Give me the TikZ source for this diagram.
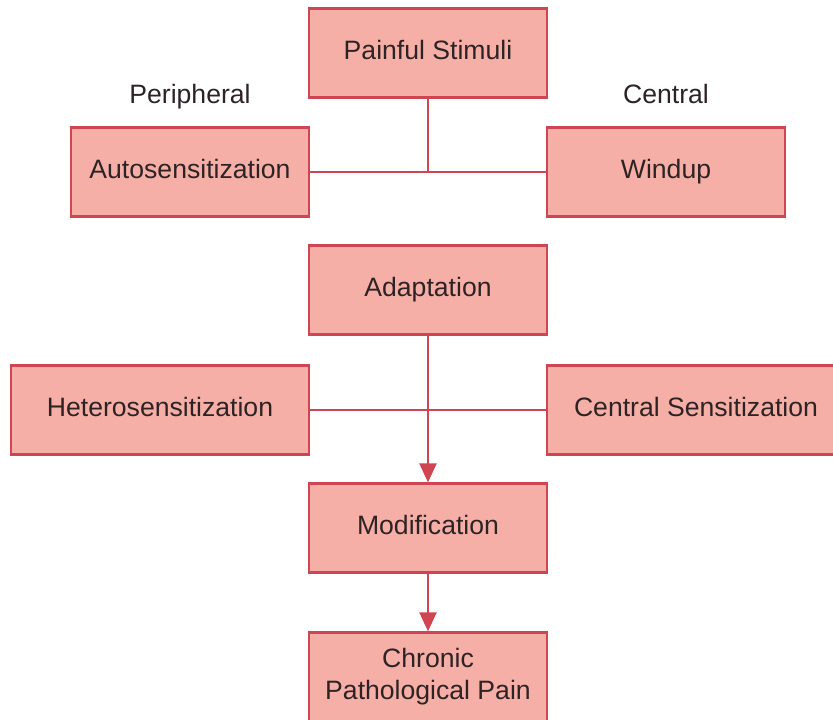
\documentclass[tikz,border=0pt]{standalone}
\usepackage{fontspec}
\setmainfont{Liberation Sans}
\usetikzlibrary{arrows.meta}
\definecolor{boxfill}{HTML}{F6AFA7}
\definecolor{boxline}{HTML}{CF4652}
\definecolor{ink}{HTML}{2E2324}
\begin{document}
\begin{tikzpicture}[x=1pt,y=-1pt,
  stagebase/.style={draw=boxline, fill=boxfill, line width=2.2pt, rectangle,
    minimum width=238pt, minimum height=89pt, inner sep=0pt,
    text=ink, font=\fontsize{26.6pt}{32pt}\selectfont, align=center},
  stage/.style={stagebase, text height=19pt, text depth=7pt},
  caption/.style={text=ink, font=\fontsize{26.6pt}{32pt}\selectfont, inner sep=0pt,
    text height=19pt, text depth=7pt},
  link/.style={draw=boxline, line width=2.2pt},
  flow/.style={link, -{Triangle[width=17pt,length=19pt]}, color=boxline}]
\useasboundingbox (0,0) rectangle (833,720);

% top tier
\node[stage] (stimuli) at (428,53) {Painful Stimuli};
\node[stage] (auto) at (190,172) {Autosensitization};
\node[stage] (windup) at (666,172) {Windup};
\node[caption] (peri) at (190,97) {Peripheral};
\node[caption] (cent) at (666,97) {Central};
\coordinate (j1) at (428,172);

% middle tier
\node[stage] (adapt) at (428,290) {Adaptation};
\node[stage, minimum width=298pt] (hetero) at (160,410) {Heterosensitization};
\node[stage, minimum width=298pt] (csens) at (696,410) {Central Sensitization};

% bottom tier
\node[stage] (modif) at (428,528) {Modification};
\node[stagebase] (chronic) at (428,677) {Chronic\\Pathological Pain};

% connectors
\draw[link] (stimuli.south) -- (j1);
\draw[link] (auto.east) -- (windup.west);
\draw[link] (hetero.east) -- (csens.west);
\draw[flow] (adapt.south) -- (modif.north);
\draw[flow] (modif.south) -- (chronic.north);
\end{tikzpicture}
\end{document}
